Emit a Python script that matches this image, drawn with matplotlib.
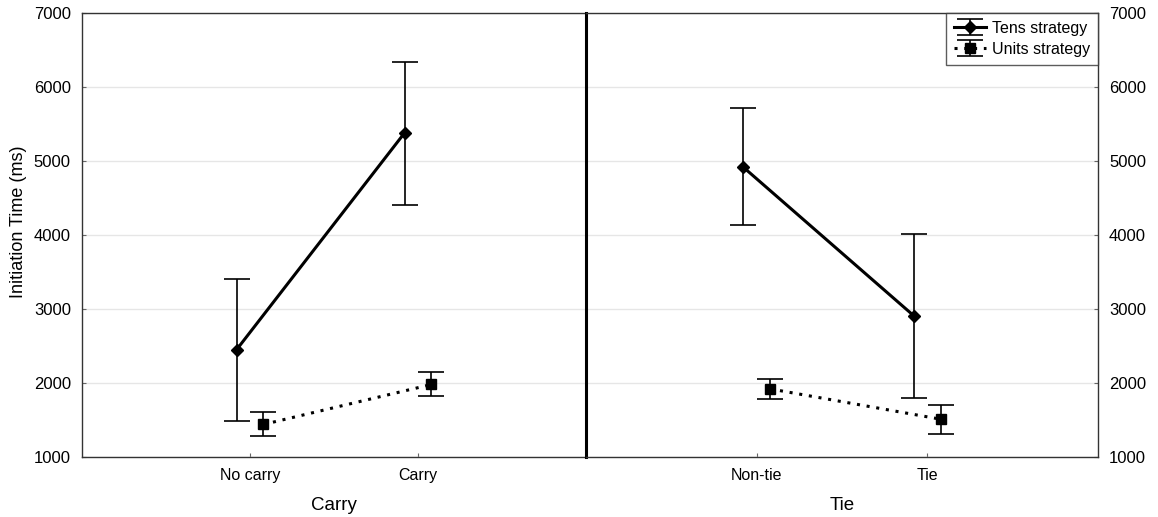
import numpy as np
import matplotlib.pyplot as plt

plt.rcParams['font.family'] = ['Liberation Sans', 'DejaVu Sans']

carry_labels = ['No carry', 'Carry']
tie_labels = ['Non-tie', 'Tie']

# tens strategy: mean, lower, upper
tens_carry = [2450, 5380]
tens_carry_lo = [1480, 4410]
tens_carry_hi = [3410, 6340]
tens_tie = [4920, 2910]
tens_tie_lo = [4130, 1800]
tens_tie_hi = [5710, 4020]

# units strategy
units_carry = [1440, 1980]
units_carry_lo = [1280, 1820]
units_carry_hi = [1610, 2150]
units_tie = [1920, 1510]
units_tie_lo = [1780, 1310]
units_tie_hi = [2050, 1700]

fig = plt.figure(figsize=(11.58, 5.17), dpi=100)
ax1 = fig.add_axes([82/1158, 1-457/517, 504/1158, 444/517])
ax2 = fig.add_axes([586/1158, 1-457/517, 512/1158, 444/517])

off = 0.08

def panel(ax, labels, tm, tlo, thi, um, ulo, uhi, xlabel):
    x = np.arange(len(labels))
    tm = np.array(tm); um = np.array(um)
    terr = [tm - np.array(tlo), np.array(thi) - tm]
    uerr = [um - np.array(ulo), np.array(uhi) - um]
    h1 = ax.errorbar(x - off, tm, yerr=terr, color='black', lw=2.2, marker='D',
                     ms=6, capsize=9.5, elinewidth=1.2, capthick=1.2, label='Tens strategy')
    h2 = ax.errorbar(x + off, um, yerr=uerr, color='black', lw=2.2, ls=(0, (1, 2.2)),
                     marker='s', ms=7, capsize=9.5, elinewidth=1.2, capthick=1.2,
                     label='Units strategy')
    ax.set_xlim(-1, 2)
    ax.set_ylim(1000, 7000)
    ax.set_xticks(x)
    ax.set_xticklabels(labels)
    ax.set_xlabel(xlabel, fontsize=13.5, labelpad=10)
    ax.set_yticks(np.arange(1000, 7001, 1000))
    ax.grid(axis='y', color='#e6e6e6', lw=1)
    ax.set_axisbelow(True)
    ax.tick_params(axis='x', direction='in', length=3, color='#666666', labelsize=11.5, pad=8)
    ax.tick_params(axis='y', direction='in', length=3, color='#666666', labelsize=12, pad=8)
    for s in ax.spines.values():
        s.set_color('#333333')
        s.set_linewidth(1.0)
    return h1, h2

panel(ax1, carry_labels, tens_carry, tens_carry_lo, tens_carry_hi,
      units_carry, units_carry_lo, units_carry_hi, 'Carry')
h1, h2 = panel(ax2, tie_labels, tens_tie, tens_tie_lo, tens_tie_hi,
               units_tie, units_tie_lo, units_tie_hi, 'Tie')

ax1.set_ylabel('Initiation Time (ms)', fontsize=13)
ax1.yaxis.set_label_coords(-0.11, 0.53)
ax1.spines['right'].set_visible(False)
ax2.spines['left'].set_linewidth(2.2)
ax2.spines['left'].set_color('black')
ax2.yaxis.tick_right()
ax2.tick_params(axis='y', which='both', left=False, right=True, labelleft=False, labelright=True)

leg = ax2.legend(handles=[h1, h2], loc='upper right', fontsize=11.5, frameon=True,
                 fancybox=False, edgecolor='#333333', handlelength=2.0,
                 borderpad=0.5, labelspacing=0.35, handletextpad=0.4,
                 borderaxespad=0.0)
leg.get_frame().set_linewidth(1.0)

fig.savefig('out.png', dpi=100)
